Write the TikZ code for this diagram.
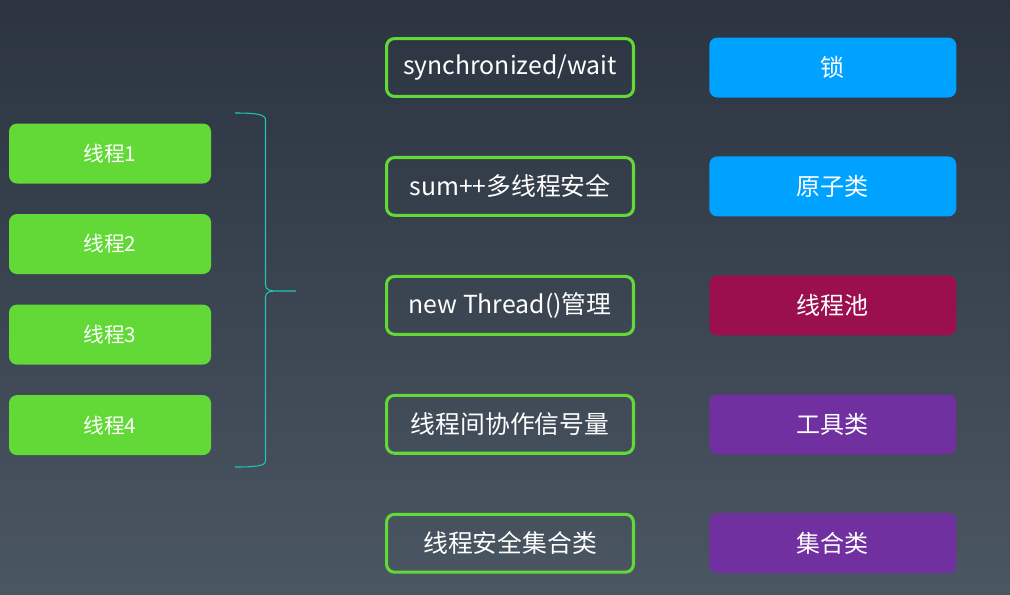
\documentclass[tikz,border=0pt]{standalone}
\usepackage{fontspec}
\setmainfont{Noto Sans CJK SC}
\usepackage{tikz}
\usetikzlibrary{positioning}
\definecolor{BgTop}{HTML}{2B3440}
\definecolor{BgBottom}{HTML}{4A5662}
\definecolor{ThreadGreen}{HTML}{62D936}
\definecolor{LockBlue}{HTML}{00A2FF}
\definecolor{PoolRed}{HTML}{9B0F4F}
\definecolor{ToolPurple}{HTML}{7030A0}
\definecolor{BraceCyan}{HTML}{20C5B5}

\begin{document}
\begin{tikzpicture}[
  x=0.75pt, y=-0.75pt,
  node distance=22.5pt and 55.5pt,
  thread/.style={fill=ThreadGreen, rounded corners=6pt, text=white, inner sep=0pt,
    minimum width=151.5pt, minimum height=45pt, font=\fontsize{15.5}{18}\selectfont},
  topic/.style={draw=ThreadGreen, line width=2.3pt, rounded corners=6pt, text=white,
    inner sep=0pt, minimum width=185.2pt, minimum height=43.4pt, font=\fontsize{18.6}{21}\selectfont},
  tool/.style={rounded corners=6pt, text=white, inner sep=0pt,
    minimum width=185.25pt, minimum height=45pt, font=\fontsize{18}{21}\selectfont},
  brace/.style={draw=BraceCyan, line width=0.8pt}
]
% background
\shade[top color=BgTop, bottom color=BgBottom] (0,0) rectangle (1010,594);
\useasboundingbox (0,0) rectangle (1010,594);

% threads
\node[thread] (t1) at (110,153.5) {线程1};
\node[thread, below=of t1] (t2) {线程2};
\node[thread, below=of t2] (t3) {线程3};
\node[thread, below=of t3] (t4) {线程4};

% brace
\draw[brace] (235,113) .. controls (255,113) and (265.5,114) .. (265.5,120)
  -- (265.5,285) .. controls (265.5,290) and (270,291) .. (277,291) -- (296,291)
  (277,291) .. controls (270,291) and (265.5,292) .. (265.5,297)
  -- (265.5,461) .. controls (265.5,466) and (255,467) .. (235,467);

% topics
\node[topic] (sync) at (510,67.5) {synchronized/wait};
\node[topic, below=43.5pt of sync] (sum) {sum++多线程安全};
\node[topic, below=43.5pt of sum] (newth) {new Thread()管理};
\node[topic, below=43.5pt of newth] (coop) {线程间协作信号量};
\node[topic, below=43.5pt of coop] (safe) {线程安全集合类};

% tools
\node[tool, fill=LockBlue, right=of sync] (lock) {锁};
\node[tool, fill=LockBlue, right=of sum] (atomic) {原子类};
\node[tool, fill=PoolRed, right=of newth] (pool) {线程池};
\node[tool, fill=ToolPurple, right=of coop] (util) {工具类};
\node[tool, fill=ToolPurple, right=of safe] (coll) {集合类};
\end{tikzpicture}
\end{document}
